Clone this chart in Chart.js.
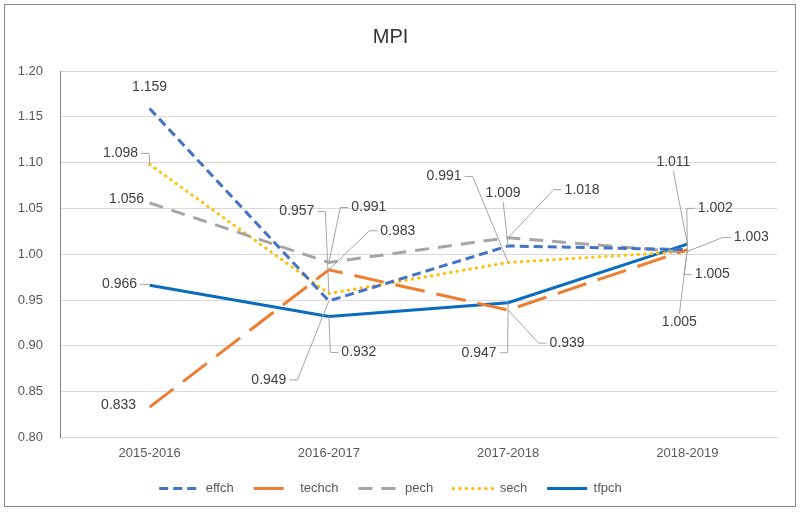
<!DOCTYPE html>
<html>
<head>
<meta charset="utf-8">
<script src="https://cdn.jsdelivr.net/npm/chart.js@4"></script>
<style>
  html, body { margin: 0; padding: 0; background: #fff; }
  canvas { display: block; }
</style>
</head>
<body>
<canvas id="mpiChart" width="800" height="512"></canvas>
<script>
// periods on the category axis
const periods = ["2015-2016", "2016-2017", "2017-2018", "2018-2019"];

// index series
const effch  = [1.159, 0.949, 1.009, 1.005];
const techch = [0.833, 0.983, 0.939, 1.005];
const pech   = [1.056, 0.991, 1.018, 1.002];
const sech   = [1.098, 0.957, 0.991, 1.003];
const tfpch  = [0.966, 0.932, 0.947, 1.011];

// y axis range / ticks
const yMin = 0.8, yMax = 1.2, yStep = 0.05;

// where each data label sits relative to its point (px) and whether it has a leader line
const labelOffsets = [
  [[0, -21, 0], [-60, 79, 1], [-5, -53, 1], [25, 25, 1]],     // effch
  [[-31, -2, 0], [69, -39, 1], [59, 33, 1], [-8, 73, 1]],     // techch
  [[-23, -4, 0], [40, -55, 1], [74, -48, 1], [28, -44, 1]],   // pech
  [[-29, -11, 1], [-32, -82, 1], [-64, -86, 1], [64, -14, 1]],// sech
  [[-30, -1, 1], [30, 36, 1], [-29, 50, 1], [-14, -82, 1]]    // tfpch
];

const FONT = '"Liberation Sans", Arial, sans-serif';

// grey frame around the whole chart
const framePlugin = {
  id: 'frame',
  beforeDraw(chart) {
    const ctx = chart.ctx;
    ctx.save();
    ctx.fillStyle = '#fff';
    ctx.fillRect(0, 0, chart.width, chart.height);
    ctx.strokeStyle = '#8c8c8c';
    ctx.lineWidth = 1;
    ctx.strokeRect(4.5, 4.5, 791, 502);
    ctx.restore();
  }
};

// value labels with Excel-like leader lines
const valueLabels = {
  id: 'valueLabels',
  afterDatasetsDraw(chart) {
    const ctx = chart.ctx;
    ctx.save();
    ctx.font = '14px ' + FONT;
    ctx.textAlign = 'center';
    ctx.textBaseline = 'middle';
    chart.data.datasets.forEach((ds, di) => {
      const meta = chart.getDatasetMeta(di);
      meta.data.forEach((pt, i) => {
        const [dx, dy, leader] = labelOffsets[di][i];
        const lx = pt.x + dx, ly = pt.y + dy;
        const text = ds.data[i].toFixed(3);
        const hw = ctx.measureText(text).width / 2 + 3, hh = 9;
        if (leader) {
          ctx.strokeStyle = '#a6a6a6';
          ctx.lineWidth = 1;
          ctx.beginPath();
          if (Math.abs(dx) > hw + 2) {
            const s = dx > 0 ? -1 : 1;
            const sx = lx + s * hw;
            ctx.moveTo(sx, ly);
            ctx.lineTo(sx + s * 8, ly);
          } else {
            const s = dy > 0 ? -1 : 1;
            ctx.moveTo(lx, ly + s * hh);
          }
          ctx.lineTo(pt.x, pt.y);
          ctx.stroke();
        }
        ctx.fillStyle = '#404040';
        ctx.fillText(text, lx, ly);
      });
    });
    ctx.restore();
  }
};

function line(label, data, color, dash, width, cap) {
  return {
    label: label,
    data: data,
    borderColor: color,
    backgroundColor: color,
    borderWidth: width,
    borderDash: dash,
    borderCapStyle: cap || 'butt',
    pointRadius: 0,
    tension: 0,
    fill: false
  };
}

const ctx = document.getElementById('mpiChart').getContext('2d');
new Chart(ctx, {
  type: 'line',
  data: {
    labels: periods,
    datasets: [
      line('effch', effch, '#4472C4', [9, 5], 3),
      line('techch', techch, '#ED7D31', [30, 12], 3),
      line('pech', pech, '#A5A5A5', [14, 9], 3),
      line('sech', sech, '#FFC000', [0.5, 6], 3, 'round'),
      line('tfpch', tfpch, '#0A6CBF', [], 3)
    ]
  },
  options: {
    responsive: false,
    animation: false,
    devicePixelRatio: 1,
    layout: { padding: { left: 4, right: 23, top: 4, bottom: 7 } },
    plugins: {
      title: {
        display: true,
        text: 'MPI',
        color: '#333333',
        font: { family: FONT, size: 20, weight: 'normal' },
        padding: { top: 21, bottom: 22 }
      },
      legend: {
        position: 'bottom',
        labels: {
          usePointStyle: true,
          pointStyle: 'line',
          pointStyleWidth: 40,
          color: '#595959',
          font: { family: FONT, size: 13 },
          padding: 20,
          generateLabels(chart) {
            const items = Chart.defaults.plugins.legend.labels.generateLabels(chart);
            items.forEach((it) => {
              const ds = chart.data.datasets[it.datasetIndex];
              it.lineDash = ds.borderDash;
              it.lineCap = ds.borderCapStyle;
              it.lineWidth = 3;
              it.strokeStyle = ds.borderColor;
            });
            return items;
          }
        }
      },
      tooltip: { enabled: false }
    },
    scales: {
      x: {
        offset: true,
        grid: { display: false, drawTicks: false },
        border: { display: true, color: '#d9d9d9' },
        ticks: { color: '#595959', font: { family: FONT, size: 13 }, padding: 8 },
        afterFit: s => { s.height = s.height - 7; }
      },
      y: {
        min: yMin,
        max: yMax,
        grid: { color: '#d9d9d9', drawTicks: false },
        border: { display: true, color: '#808080' },
        ticks: {
          stepSize: yStep,
          color: '#595959',
          font: { family: FONT, size: 13 },
          padding: 17,
          callback: v => v.toFixed(2)
        },
        afterFit: s => { s.width = 56; }
      }
    }
  },
  plugins: [framePlugin, valueLabels]
});
</script>
</body>
</html>
